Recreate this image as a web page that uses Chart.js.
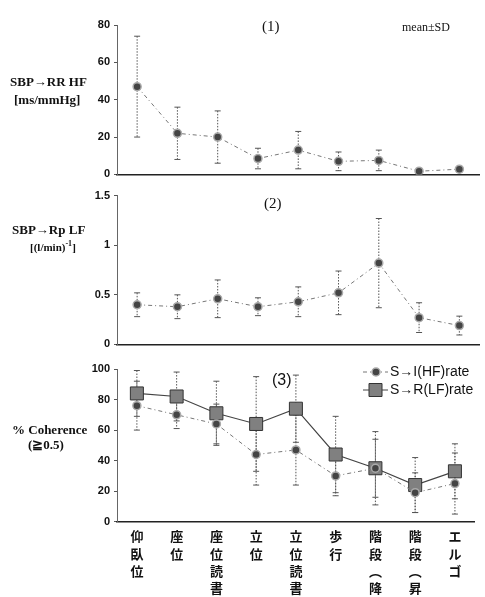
<!DOCTYPE html>
<html>
<head>
<meta charset="utf-8">
<script src="https://cdn.jsdelivr.net/npm/chart.js@4"></script>
<style>
  body { margin: 0; background: #fff; width: 485px; height: 597px; overflow: hidden; position: relative; }
  canvas { position: absolute; left: 0; }
  .t { position: absolute; white-space: nowrap; color: #111; font-family: "Liberation Serif", serif; font-weight: bold; z-index: 2; }
</style>
</head>
<body>
<canvas id="c1" width="485" height="185" style="top:0"></canvas>
<canvas id="c2" width="485" height="170" style="top:185px"></canvas>
<canvas id="c3" width="485" height="242" style="top:355px"></canvas>

<div class="t" style="left:10px;top:74px;font-size:13px">SBP→RR HF</div>
<div class="t" style="left:14px;top:92px;font-size:13px">[ms/mmHg]</div>
<div class="t" style="left:262px;top:18px;font-size:15px;font-weight:normal">(1)</div>
<div class="t" style="left:402px;top:20px;font-size:12px;font-weight:normal">mean±SD</div>

<div class="t" style="left:12px;top:222px;font-size:13px">SBP→Rp LF</div>
<div class="t" style="left:30px;top:239px;font-size:11px">[(l/min)<sup style="font-size:8px">-1</sup>]</div>
<div class="t" style="left:264px;top:195px;font-size:15px;font-weight:normal">(2)</div>

<div class="t" style="left:12px;top:422px;font-size:13px">% Coherence</div>
<div class="t" style="left:28px;top:437px;font-size:13px">(≧0.5)</div>
<div class="t" style="left:272px;top:371px;font-size:16px;font-weight:normal;font-family:'Liberation Sans',sans-serif">(3)</div>

<script>
// categories (vertical Japanese labels, one char per line)
const categories = [
  ['仰', '臥', '位'], ['座', '位'], ['座', '位', '読', '書'], ['立', '位'],
  ['立', '位', '読', '書'], ['歩', '行'], ['階', '段', '︵', '降'], ['階', '段', '︵', '昇'], ['エ', 'ル', 'ゴ']
];

// (1) SBP -> RR HF [ms/mmHg]
const rrHF = [47, 22, 20, 8.5, 13, 7, 7.5, 1.7, 2.8];
const rrHFSd = [27, 14, 14, 5.5, 10, 5, 5.5, 0, 0];

// (2) SBP -> Rp LF [(l/min)^-1]
const rpLF = [0.40, 0.38, 0.46, 0.38, 0.43, 0.52, 0.82, 0.27, 0.19];
const rpLFSd = [0.12, 0.12, 0.19, 0.09, 0.15, 0.22, 0.45, 0.15, 0.095];

// (3) % coherence
const cohHF = [76, 70, 64, 44, 47, 30, 35, 19, 25];
const cohHFSd = [16, 9, 13, 20, 23, 13, 19, 13, 20];
const cohLF = [84, 82, 71, 64, 74, 44, 35, 24, 33];
const cohLFSd = [15, 16, 21, 31, 22, 25, 24, 18, 18];

const tickFont = { family: '"Liberation Sans Narrow", "Liberation Sans", Arial, sans-serif', weight: 'bold', size: 11 };

const errorBars = {
  id: 'errorBars',
  beforeDatasetsDraw(chart) {
    const ctx = chart.ctx, y = chart.scales.y;
    chart.data.datasets.forEach((ds, i) => {
      if (!ds.errors) return;
      chart.getDatasetMeta(i).data.forEach((pt, j) => {
        const sd = ds.errors[j];
        if (!sd) return;
        const top = y.getPixelForValue(ds.data[j] + sd);
        const bot = y.getPixelForValue(ds.data[j] - sd);
        ctx.save();
        ctx.strokeStyle = '#555';
        ctx.lineWidth = 1;
        ctx.setLineDash([1.5, 1.5]);
        ctx.beginPath(); ctx.moveTo(pt.x, top); ctx.lineTo(pt.x, bot); ctx.stroke();
        ctx.setLineDash([]);
        ctx.beginPath();
        ctx.moveTo(pt.x - 3, top); ctx.lineTo(pt.x + 3, top);
        ctx.moveTo(pt.x - 3, bot); ctx.lineTo(pt.x + 3, bot);
        ctx.stroke();
        ctx.restore();
      });
    });
  }
};

// small legend drawn top right in panel 3
const cohLegend = {
  id: 'cohLegend',
  afterDraw(chart) {
    const ctx = chart.ctx;
    const rows = [{ y: 17, ds: chart.data.datasets[0] }, { y: 35, ds: chart.data.datasets[1] }];
    rows.forEach(r => {
      ctx.save();
      ctx.strokeStyle = r.ds.borderColor;
      ctx.lineWidth = 1;
      ctx.setLineDash(r.ds.borderDash || []);
      ctx.beginPath(); ctx.moveTo(363, r.y); ctx.lineTo(388, r.y); ctx.stroke();
      ctx.setLineDash([]);
      ctx.fillStyle = r.ds.pointBackgroundColor;
      ctx.strokeStyle = r.ds.pointBorderColor;
      ctx.lineWidth = r.ds.pointBorderWidth;
      ctx.beginPath();
      if (r.ds.pointStyle === 'rect') ctx.rect(369, r.y - 6.5, 13, 13);
      else ctx.arc(376, r.y, 4, 0, Math.PI * 2);
      ctx.fill(); ctx.stroke();
      ctx.fillStyle = '#111';
      ctx.font = '14px "Liberation Sans", Arial, sans-serif';
      ctx.textBaseline = 'middle';
      ctx.fillText(r.ds.label, 390, r.y);
      ctx.restore();
    });
  }
};

function circleSet(label, data, errors, dash) {
  return {
    label, data, errors,
    borderColor: '#777', borderWidth: 1, borderDash: dash,
    pointStyle: 'circle', pointRadius: 4,
    pointBackgroundColor: '#444', pointBorderColor: '#aaa', pointBorderWidth: 1.5
  };
}

function makeChart(id, datasets, yMax, yStep, padTop, xHeight, showX, plugins) {
  return new Chart(document.getElementById(id), {
    type: 'line',
    data: { labels: categories, datasets },
    options: {
      responsive: false,
      animation: false,
      layout: { padding: { left: 0, right: 1, top: padTop, bottom: 0 } },
      plugins: { legend: { display: false }, tooltip: { enabled: false } },
      scales: {
        x: {
          offset: true,
          grid: { display: false, drawTicks: false },
          border: { display: true, color: '#222', width: 1.5 },
          ticks: {
            display: showX, autoSkip: false, maxRotation: 0, minRotation: 0, padding: 6,
            color: '#111', font: { family: '"Noto Sans CJK JP", sans-serif', weight: 'bold', size: 13, lineHeight: 1.33 }
          },
          afterFit: s => { s.height = xHeight; }
        },
        y: {
          min: 0, max: yMax,
          grid: { drawOnChartArea: false, tickLength: 3, color: '#555' },
          border: { display: true, color: '#666', dash: [2, 2], width: 1 },
          ticks: { stepSize: yStep, padding: 4, color: '#111', font: tickFont, callback: v => String(v) },
          afterFit: s => { s.width = 117; }
        }
      }
    },
    plugins: [errorBars].concat(plugins || [])
  });
}

makeChart('c1', [circleSet('SBP→RR HF', rrHF, rrHFSd, [4, 3, 1, 3])], 80, 20, 25, 8, false);
makeChart('c2', [circleSet('SBP→Rp LF', rpLF, rpLFSd, [4, 3, 1, 3])], 1.5, 0.5, 10.7, 5, false);

const sqSet = {
  label: 'S→R(LF)rate', data: cohLF, errors: cohLFSd,
  borderColor: '#444', borderWidth: 1.2, borderDash: [],
  pointStyle: 'rect', pointRadius: 9.2,
  pointBackgroundColor: '#808080', pointBorderColor: '#333', pointBorderWidth: 1
};
makeChart('c3', [circleSet('S→I(HF)rate', cohHF, cohHFSd, [4, 3, 1, 3]), sqSet], 100, 20, 14, 75.3, true, [cohLegend]);
</script>
</body>
</html>
